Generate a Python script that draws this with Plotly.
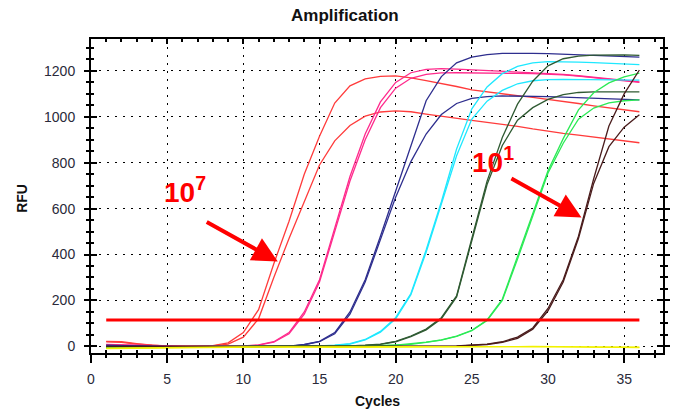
import plotly.graph_objects as go

cycles = list(range(1, 37))

red_a = [22, 20, 12, 5, 2, 1, 1, 3, 15, 60, 160, 360, 545, 750, 915, 1060, 1135, 1165, 1176, 1178,
         1170, 1158, 1146, 1132, 1117, 1108, 1100, 1092, 1085, 1077, 1068, 1058, 1048, 1039, 1030, 1022]
red_b = [20, 17, 10, 4, 1, 0, 0, 2, 10, 40, 120, 300, 470, 630, 790, 895, 962, 1003, 1021, 1026,
         1022, 1012, 1002, 992, 984, 976, 968, 958, 947, 936, 928, 920, 911, 903, 895, 887]
pink_a = [9, 7, 4, 2, 1, 0, 0, 0, 1, 2, 6, 20, 60, 150, 290, 510, 740, 925, 1065, 1150,
          1192, 1207, 1210, 1208, 1205, 1202, 1199, 1196, 1193, 1190, 1185, 1179, 1172, 1165, 1158, 1152]
pink_b = [7, 5, 3, 1, 0, 0, 0, 0, 1, 2, 5, 18, 55, 140, 280, 495, 720, 900, 1040, 1125,
          1168, 1185, 1191, 1192, 1192, 1191, 1190, 1189, 1188, 1187, 1183, 1177, 1170, 1163, 1156, 1150]
navy_a = [5, 3, 1, 0, -2, -3, -3, -3, -3, -2, -2, -1, 1, 8, 22, 60, 150, 290, 480, 680,
          880, 1070, 1175, 1235, 1260, 1271, 1276, 1277, 1276, 1275, 1273, 1271, 1268, 1266, 1263, 1260]
navy_b = [3, 2, 0, -1, -3, -4, -4, -4, -4, -3, -3, -2, 0, 7, 20, 55, 140, 280, 465, 650,
          805, 925, 1010, 1058, 1080, 1088, 1091, 1091, 1090, 1088, 1086, 1084, 1081, 1079, 1076, 1074]
cyan_a = [-3, -3, -2, -2, -1, -1, 0, 0, 0, 0, 0, 0, 1, 1, 2, 5, 12, 30, 65, 125,
          230, 420, 630, 860, 1035, 1130, 1188, 1220, 1235, 1240, 1240, 1238, 1236, 1233, 1230, 1227]
cyan_b = [-4, -3, -3, -2, -2, -1, -1, 0, 0, 0, 0, 0, 0, 1, 2, 4, 10, 28, 62, 120,
          225, 410, 615, 830, 990, 1068, 1115, 1144, 1157, 1162, 1163, 1163, 1162, 1162, 1161, 1160]
dgreen_a = [-6, -5, -4, -3, -3, -2, -2, -2, -1, -1, -1, 0, 0, 0, 1, 1, 2, 5, 10, 22,
            45, 75, 125, 220, 470, 720, 910, 1055, 1155, 1222, 1253, 1264, 1269, 1271, 1270, 1268]
dgreen_b = [-7, -6, -5, -4, -3, -3, -2, -2, -2, -1, -1, -1, 0, 0, 0, 1, 2, 4, 9, 20,
            42, 72, 120, 215, 460, 705, 875, 985, 1040, 1076, 1097, 1106, 1109, 1110, 1110, 1109]
lgreen_a = [-3, -3, -2, -2, -2, -1, -1, -1, -1, 0, 0, 0, 0, 0, 0, 1, 1, 2, 3, 5,
            10, 18, 28, 45, 70, 115, 205, 390, 580, 765, 905, 1030, 1105, 1148, 1174, 1190]
lgreen_b = [-4, -3, -3, -2, -2, -2, -1, -1, -1, -1, 0, 0, 0, 0, 0, 0, 1, 2, 3, 5,
            9, 17, 27, 43, 68, 112, 200, 380, 570, 755, 885, 990, 1038, 1061, 1070, 1074]
brown_a = [0, 0, -1, -1, -1, -1, -1, -2, -2, -2, -2, -2, -2, -2, -2, -1, -1, -1, -1, -1,
           0, 0, 1, 2, 5, 10, 20, 40, 80, 165, 290, 480, 730, 960, 1100, 1204]
brown_b = [-1, -1, -2, -2, -2, -2, -2, -3, -3, -3, -3, -3, -3, -3, -3, -2, -2, -2, -2, -2,
           -1, -1, 0, 1, 4, 8, 17, 35, 75, 155, 280, 470, 710, 870, 955, 1009]
yellow_a = [-8, -7, -6, -5, -4, -4, -3, -3, -2, -2, -2, -1, -1, -2, -2, -3, -3, -2, -1, -1,
            0, 0, -1, -1, -2, -2, -1, 0, 1, 0, -1, -2, -3, -3, -4, -4]
yellow_b = [-10, -9, -8, -7, -6, -5, -5, -4, -4, -3, -3, -3, -2, -3, -3, -4, -4, -3, -2, -2,
            -1, -1, -2, -2, -3, -3, -2, -1, 0, -1, -2, -3, -4, -4, -5, -5]

threshold_x = [1, 36]
threshold_y = [115, 115]

x_ticks = [0, 5, 10, 15, 20, 25, 30, 35]
y_ticks = [0, 200, 400, 600, 800, 1000, 1200]

series = [
    (red_a, "#ff3b3b"), (red_b, "#ff3b3b"),
    (pink_a, "#ff2a8c"), (pink_b, "#ff2a8c"),
    (navy_a, "#2e2e8e"), (navy_b, "#2e2e8e"),
    (cyan_a, "#1ee8ff"), (cyan_b, "#1ee8ff"),
    (dgreen_a, "#2f5a32"), (dgreen_b, "#2f5a32"),
    (lgreen_a, "#2bea55"), (lgreen_b, "#2bea55"),
    (brown_a, "#4a1c1c"), (brown_b, "#4a1c1c"),
    (yellow_a, "#f2f200"), (yellow_b, "#f2f200"),
]

XR = [0, 37.55]
YR = [-29, 1339]

fig = go.Figure()
for vals, col in series:
    fig.add_trace(go.Scatter(x=cycles, y=vals, mode="lines",
                             line=dict(color=col, width=1.3),
                             showlegend=False, hoverinfo="skip"))

fig.add_trace(go.Scatter(x=threshold_x, y=threshold_y, mode="lines",
                         line=dict(color="#ff0000", width=3),
                         showlegend=False, hoverinfo="skip"))

# dummy trace for the overlay axes (outside ticks)
fig.add_trace(go.Scatter(x=[None], y=[None], xaxis="x2", yaxis="y2",
                         showlegend=False, hoverinfo="skip"))

tickfont = dict(family="Liberation Sans, Arial, sans-serif", size=14, color="#2a2a3a")

fig.update_layout(
    width=675, height=411,
    margin=dict(l=91, r=5, t=39, b=58),
    paper_bgcolor="white", plot_bgcolor="white",
    xaxis=dict(range=XR, tickvals=x_ticks, showticklabels=False,
               showgrid=True, gridcolor="black", gridwidth=1, griddash="2px,6px",
               zeroline=False, showline=True, linecolor="black", linewidth=2,
               mirror="allticks", ticks="inside", ticklen=5, tickcolor="black", tickwidth=2,
               minor=dict(dtick=1, tick0=0, ticks="inside", ticklen=3, tickcolor="black",
                          tickwidth=1.5, showgrid=False)),
    yaxis=dict(range=YR, tickvals=y_ticks, showticklabels=False,
               showgrid=True, gridcolor="black", gridwidth=1, griddash="2px,6px",
               zeroline=False, showline=True, linecolor="black", linewidth=2,
               mirror="allticks", ticks="inside", ticklen=6, tickcolor="black", tickwidth=2,
               minor=dict(dtick=50, tick0=0, ticks="inside", ticklen=3, tickcolor="black",
                          tickwidth=1.5, showgrid=False)),
    xaxis2=dict(range=XR, overlaying="x", anchor="y2", side="bottom",
                tickvals=x_ticks, showgrid=False, zeroline=False, showline=False,
                ticks="outside", ticklen=9, tickcolor="black", tickwidth=2,
                tickfont=tickfont, ticklabelstandoff=4,
                minor=dict(dtick=1, tick0=0, ticks="outside", ticklen=4, tickcolor="black",
                           tickwidth=1.5, showgrid=False)),
    yaxis2=dict(range=YR, overlaying="y", anchor="x2", side="left",
                tickvals=y_ticks, showgrid=False, zeroline=False, showline=True,
                linecolor="black", linewidth=2, mirror="allticks",
                ticks="outside", ticklen=5, tickcolor="black", tickwidth=2,
                tickfont=tickfont, ticklabelstandoff=6,
                minor=dict(dtick=50, tick0=0, ticks="outside", ticklen=3, tickcolor="black",
                           tickwidth=1.5, showgrid=False)),
)

bold = dict(family="Liberation Sans, Arial, sans-serif", color="#111111")
annotations = [
    dict(text="<b>Amplification</b>", xref="paper", yref="paper",
         x=(348 - 91) / 579, y=(353 - 15) / 314, showarrow=False,
         xanchor="center", yanchor="middle", font=dict(size=17, **bold)),
    dict(text="<b>Cycles</b>", xref="paper", yref="paper",
         x=(381 - 91) / 579, y=(353 - 401) / 314, showarrow=False,
         xanchor="center", yanchor="middle", font=dict(size=14, **bold)),
    dict(text="<b>RFU</b>", xref="paper", yref="paper", textangle=-90,
         x=(21 - 91) / 579, y=(353 - 198) / 314, showarrow=False,
         xanchor="center", yanchor="middle", font=dict(size=14, **bold)),
    dict(text="<b>10<sup>7</sup></b>", xref="x", yref="y", x=6.2, y=680,
         showarrow=False, xanchor="center", yanchor="middle",
         font=dict(family="Liberation Sans, Arial, sans-serif", size=28, color="#ff0000")),
    dict(text="<b>10<sup>1</sup></b>", xref="x", yref="y", x=26.4, y=810,
         showarrow=False, xanchor="center", yanchor="middle",
         font=dict(family="Liberation Sans, Arial, sans-serif", size=28, color="#ff0000")),
    dict(text="", xref="x", yref="y", axref="x", ayref="y",
         x=12.26, y=370, ax=7.5, ay=545, showarrow=True,
         arrowcolor="#ff0000", arrowwidth=4, arrowhead=2, arrowsize=1.25, standoff=0),
    dict(text="", xref="x", yref="y", axref="x", ayref="y",
         x=32.2, y=561, ax=27.5, ay=735, showarrow=True,
         arrowcolor="#ff0000", arrowwidth=4, arrowhead=2, arrowsize=1.25, standoff=0),
]
fig.update_layout(annotations=annotations)

fig.write_html("out.html")
